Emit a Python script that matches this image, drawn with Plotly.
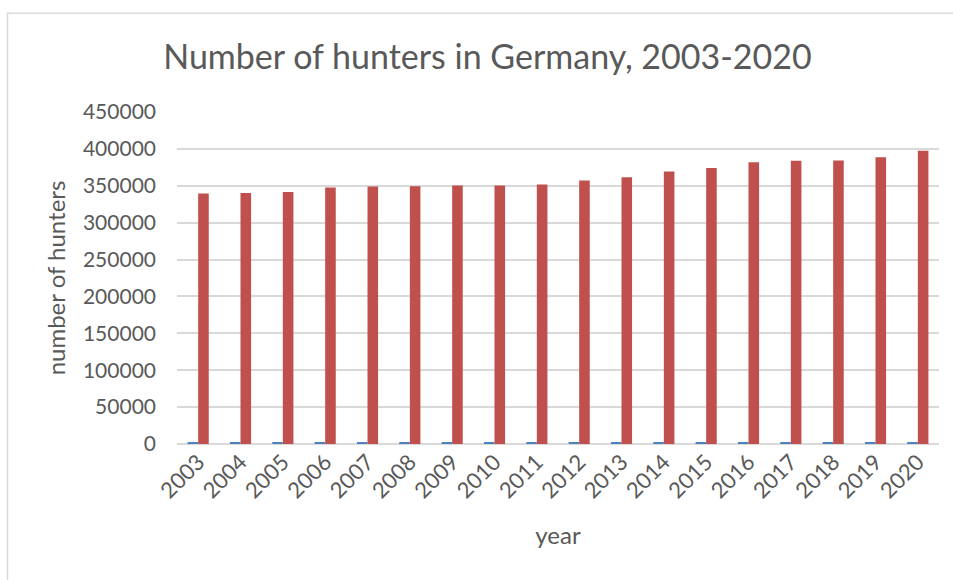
import plotly.graph_objects as go

# Hunting licence holders in Germany per year
years = [str(y) for y in range(2003, 2021)]
year_values = list(range(2003, 2021))
hunters = [339600, 340100, 341500, 347800, 349100, 349200, 350400, 350300, 351800,
           357100, 361400, 369300, 374000, 381800, 383800, 384400, 388500, 397500]

W, H = 953, 580
L, R, T, B = 177, 14, 111.5, 136
text_color = "#595959"
grid_color = "#d9d9d9"
font_family = "Lato, 'Open Sans', sans-serif"

fig = go.Figure()
fig.add_trace(go.Bar(x=years, y=year_values, name="year",
                     marker=dict(color="#4f81bd", line=dict(width=0))))
fig.add_trace(go.Bar(x=years, y=hunters, name="number of hunters",
                     marker=dict(color="#c0504d", line=dict(width=0))))

pw, ph = W - L - R, H - T - B


def px_to_paper_x(px):
    return (px - L) / pw


def px_to_paper_y(py):
    return (H - B - py) / ph


fig.update_layout(
    width=W, height=H,
    margin=dict(l=L, r=R, t=T, b=B),
    paper_bgcolor="white", plot_bgcolor="white",
    barmode="group", bargap=0.5, bargroupgap=0,
    showlegend=False,
    font=dict(family=font_family, color=text_color, size=21),
    title=dict(text="Number of hunters in Germany, 2003-2020",
               font=dict(family=font_family, size=34, color=text_color),
               x=487.5 / W, xref="container", xanchor="center",
               y=1 - 57 / H, yref="container", yanchor="middle"),
    xaxis=dict(tickangle=-45, showgrid=False, showline=False, ticks="",
               tickfont=dict(size=22, color=text_color),
               title=dict(text="year", font=dict(size=24, color=text_color), standoff=24)),
    yaxis=dict(range=[0, 450000], dtick=50000, tickformat="d",
               showgrid=True, gridcolor=grid_color, gridwidth=1.5,
               zeroline=True, zerolinecolor=grid_color, zerolinewidth=1.5,
               showline=False, ticks="", ticklabelstandoff=20,
               tickfont=dict(size=21, color=text_color),
               title=dict(text="number of hunters", font=dict(size=24, color=text_color),
                          standoff=10)),
    shapes=[dict(type="rect", xref="paper", yref="paper",
                 x0=px_to_paper_x(7.5), x1=px_to_paper_x(W + 20),
                 y0=px_to_paper_y(H + 20), y1=px_to_paper_y(12.5),
                 line=dict(color=grid_color, width=1.5), fillcolor="rgba(0,0,0,0)",
                 layer="below")],
)

fig.write_html("out.html")
